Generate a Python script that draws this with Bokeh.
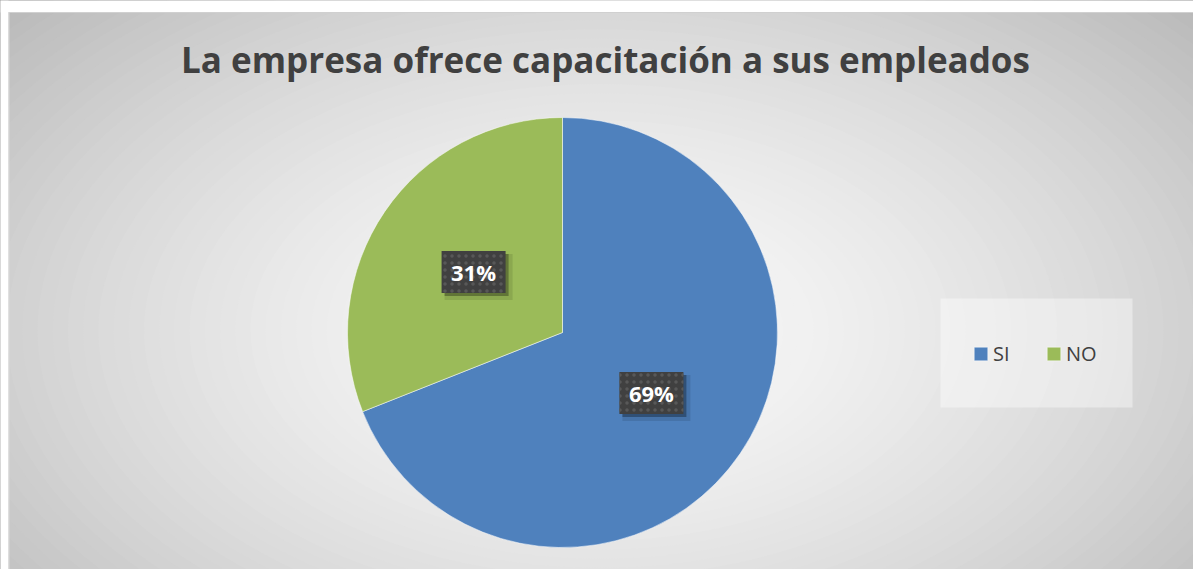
import numpy as np
from bokeh.plotting import figure
from bokeh.models import Range1d, Label, Legend, LegendItem
from bokeh.core.properties import value
from bokeh.embed import file_html
from bokeh.resources import INLINE

# ---- data ----
title_text = "La empresa ofrece capacitación a sus empleados"
categories = ["SI", "NO"]
values = [69, 31]
colors = ["#4f81bd", "#9bbb59"]

W, H = 1193, 569
OX, OY = 0, 0  # page offset


def fx(px):
    return px - OX


def fy(py):
    return H - (py - OY)


p = figure(width=W, height=H, x_range=Range1d(0, W), y_range=Range1d(0, H),
           output_backend="svg", toolbar_location=None, min_border=0,
           outline_line_color=None, background_fill_color="#f4f4f4",
           border_fill_color="white")
p.axis.visible = False
p.grid.visible = False

# ---- background radial gradient (concentric ellipses) ----
gcx, gcy = fx(600), fy(330)
rx, ry = 700, 420
n = 70
ts = np.linspace(1.5, 0.0, n)
gx, gy, gw, gh, gc = [], [], [], [], []
for t in ts:
    c = int(round(248 - 50 * min(t, 1.4) ** 1.6))
    c = max(min(c, 255), 0)
    gx.append(gcx); gy.append(gcy)
    gw.append(2 * rx * max(t, 0.01)); gh.append(2 * ry * max(t, 0.01))
    gc.append("#%02x%02x%02x" % (c, c, c))
p.ellipse(x=gx, y=gy, width=gw, height=gh, fill_color=gc, line_color=None)

# white margin on top/left + faint border
p.quad(left=[0], right=[W], bottom=[fy(12)], top=[H], fill_color="white", line_color=None)
p.quad(left=[0], right=[fx(8)], bottom=[0], top=[H], fill_color="white", line_color=None)
p.segment(x0=[fx(8)], y0=[fy(12)], x1=[W], y1=[fy(12)], line_color="#d0d0d0", line_width=1)
p.segment(x0=[fx(8) + 0.5], y0=[0], x1=[fx(8) + 0.5], y1=[fy(12)], line_color="#d8d8d8", line_width=1)

# ---- pie ----
cx, cy, R = fx(562), fy(332), 215
total = float(sum(values))
frac = [v / total for v in values]
# NO anticlockwise from top, SI takes the rest (clockwise from top)
no_start = np.pi / 2
no_end = no_start + frac[1] * 2 * np.pi
si_start = no_end
si_end = np.pi / 2 + 2 * np.pi
starts = [si_start, no_start]
ends = [si_end, no_end]
wr = p.wedge(x=[cx, cx], y=[cy, cy], radius=R, start_angle=starts, end_angle=ends,
             fill_color=colors, line_color="white", line_alpha=0.5, line_width=1)

# ---- data labels ----
mids = [(s + e) / 2 for s, e in zip(starts, ends)]
lx = [cx + 0.5 * R * np.cos(m) for m in mids]
ly = [cy + 0.5 * R * np.sin(m) for m in mids]
labels = ["%d%%" % v for v in values]
bw, bh = 64, 42
p.rect(x=[x + 5 for x in lx], y=[y - 5 for y in ly], width=bw + 4, height=bh + 4,
       width_units="screen", height_units="screen", fill_color="black", fill_alpha=0.10, line_color=None)
p.rect(x=[x + 3 for x in lx], y=[y - 3 for y in ly], width=bw, height=bh,
       width_units="screen", height_units="screen", fill_color="black", fill_alpha=0.30, line_color=None)
p.rect(x=lx, y=ly, width=bw, height=bh, width_units="screen", height_units="screen",
       fill_color="#404040", line_color=None, hatch_pattern="dot", hatch_color="#585858",
       hatch_scale=7, hatch_weight=1.5)
p.text(x=lx, y=ly, text=labels, text_align="center", text_baseline="middle",
       text_color="white", text_font_size="22px", text_font_style="bold",
       text_font=value("Open Sans"))

# ---- title ----
p.add_layout(Label(x=fx(605), y=fy(59), text=title_text, text_align="center",
                   text_baseline="alphabetic", text_font="Open Sans", text_font_style="bold",
                   text_font_size="35px", text_color="#404040"))

# ---- legend ----
p.quad(left=[fx(940)], right=[fx(1132)], bottom=[fy(407)], top=[fy(298)],
       fill_color="white", fill_alpha=0.4, line_color=None)
legend = Legend(items=[LegendItem(label=categories[0], renderers=[wr], index=0),
                       LegendItem(label=categories[1], renderers=[wr], index=1)],
                orientation="horizontal", location=(fx(972), fy(367)),
                padding=0, margin=0, spacing=32, label_standoff=4,
                glyph_width=17, glyph_height=17,
                label_text_font="Open Sans", label_text_font_size="20px",
                label_text_color="#404040", background_fill_alpha=0,
                border_line_color=None, label_height=14)
p.add_layout(legend)

open("out.html", "w").write(file_html(p, INLINE))
